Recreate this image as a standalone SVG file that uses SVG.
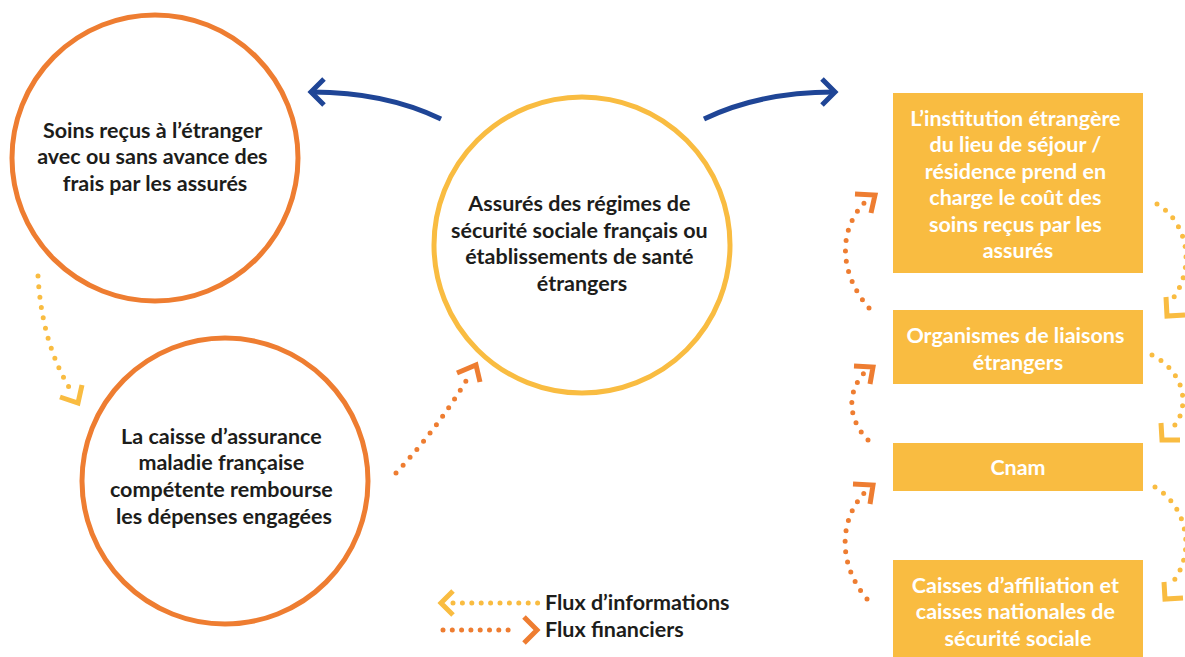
<svg xmlns="http://www.w3.org/2000/svg" width="1185" height="657" viewBox="0 0 1185 657">
  <style>
    .lbl { font-family: Lato, "Liberation Sans", sans-serif; font-weight: 700; font-size: 21.5px; text-anchor: middle; }
    .dark { fill: #1d1d1b; }
    .light { fill: #ffffff; }
    .ring-o { fill: #ffffff; stroke: #ee7d31; stroke-width: 5; }
    .ring-y { fill: #ffffff; stroke: #f9bc41; stroke-width: 5; }
    .box { fill: #f9bc41; }
    .blue { fill: none; stroke: #1f4596; stroke-width: 5; }
    .dots-o { fill: none; stroke: #ee7d31; stroke-width: 5; stroke-linecap: round; stroke-dasharray: 0 10.5; }
    .dots-y { fill: none; stroke: #f9bc41; stroke-width: 5; stroke-linecap: round; stroke-dasharray: 0 10.5; }
    .chev-o { fill: none; stroke: #ee7d31; stroke-width: 5; }
    .chev-y { fill: none; stroke: #f9bc41; stroke-width: 5; }
    .legend { font-family: Lato, "Liberation Sans", sans-serif; font-weight: 700; font-size: 21.5px; fill: #1d1d1b; }
  </style>

  <!-- circles -->
  <g id="soins-etranger">
    <circle class="ring-o" cx="155" cy="158" r="143"/>
    <text class="lbl dark">
      <tspan x="155" y="138">Soins reçus à l’étranger</tspan>
      <tspan x="155" y="164">avec ou sans avance des</tspan>
      <tspan x="155" y="191">frais par les assurés</tspan>
    </text>
  </g>

  <g id="caisse-francaise">
    <circle class="ring-o" cx="225" cy="481" r="143"/>
    <text class="lbl dark">
      <tspan x="224" y="444">La caisse d’assurance</tspan>
      <tspan x="224" y="470">maladie française</tspan>
      <tspan x="224" y="497">compétente rembourse</tspan>
      <tspan x="224" y="524">les dépenses engagées</tspan>
    </text>
  </g>

  <g id="assures">
    <circle class="ring-y" cx="582" cy="245" r="148"/>
    <text class="lbl dark">
      <tspan x="582" y="211">Assurés des régimes de</tspan>
      <tspan x="582" y="238">sécurité sociale français ou</tspan>
      <tspan x="582" y="264">établissements de santé</tspan>
      <tspan x="582" y="291">étrangers</tspan>
    </text>
  </g>

  <!-- boxes -->
  <g id="institution-etrangere">
    <rect class="box" x="893" y="93" width="250" height="180"/>
    <text class="lbl light">
      <tspan x="1018" y="126">L’institution étrangère</tspan>
      <tspan x="1018" y="152">du lieu de séjour /</tspan>
      <tspan x="1018" y="179">résidence prend en</tspan>
      <tspan x="1018" y="205">charge le coût des</tspan>
      <tspan x="1018" y="232">soins reçus par les</tspan>
      <tspan x="1018" y="258">assurés</tspan>
    </text>
  </g>

  <g id="organismes-liaison">
    <rect class="box" x="893" y="310" width="250" height="74"/>
    <text class="lbl light">
      <tspan x="1018" y="343">Organismes de liaisons</tspan>
      <tspan x="1018" y="370">étrangers</tspan>
    </text>
  </g>

  <g id="cnam">
    <rect class="box" x="893" y="443" width="250" height="48"/>
    <text class="lbl light" x="1018" y="475">Cnam</text>
  </g>

  <g id="caisses-affiliation">
    <rect class="box" x="893" y="560" width="250" height="97"/>
    <text class="lbl light">
      <tspan x="1018" y="593">Caisses d’affiliation et</tspan>
      <tspan x="1018" y="619">caisses nationales de</tspan>
      <tspan x="1018" y="646">sécurité sociale</tspan>
    </text>
  </g>

  <!-- connectors -->
  <g id="connectors">
    <!-- blue arrows -->
    <path class="blue" d="M441,119 Q385,92 312,92"/>
    <path class="blue" d="M324,79 L311,92 L324,105"/>
    <path class="blue" d="M704,119 Q760,92 834,92"/>
    <path class="blue" d="M822,79 L835,92 L822,105"/>

    <!-- information flow, left -->
    <path class="dots-y" d="M38,276 Q42,345 72,392"/>
    <path class="chev-y" d="M60,397 L78,403 L82,385"/>

    <!-- financial flow, bottom circle to centre -->
    <path class="dots-o" d="M396,473 Q438,428 469,376"/>
    <path class="chev-o" d="M457,373 L476,365 L480,382"/>

    <!-- financial flows, right column -->
    <path class="dots-o" d="M869,308 C840,275 836,230 867,200"/>
    <path class="chev-o" d="M855,194 L875,195 L871,213"/>
    <path class="dots-o" d="M868,440 C848,420 846,392 865,372"/>
    <path class="chev-o" d="M854,366 L873,367 L870,384"/>
    <path class="dots-o" d="M867,599 C838,565 838,520 866,491"/>
    <path class="chev-o" d="M853,484 L873,485 L870,504"/>

    <!-- information flows, right column -->
    <path class="dots-y" d="M1157,204 C1192,225 1194,275 1170,302"/>
    <path class="chev-y" d="M1166,297 L1167,316 L1185,315"/>
    <path class="dots-y" d="M1152,355 C1190,375 1190,415 1168,432"/>
    <path class="chev-y" d="M1161,423 L1162,440 L1180,440"/>
    <path class="dots-y" d="M1155,487 C1192,510 1194,560 1170,585"/>
    <path class="chev-y" d="M1164,582 L1165,599 L1183,598"/>
  </g>

  <!-- legend -->
  <g id="legend">
    <path class="dots-y" d="M453,603 L538,603" style="stroke-dasharray:0 9.4"/>
    <path class="chev-y" d="M453,591 L441,603 L453,615"/>
    <text class="legend" x="545" y="610">Flux d’informations</text>
    <path class="dots-o" d="M443,630 L517,630" style="stroke-dasharray:0 9.3"/>
    <path class="chev-o" d="M524,617 L537,630 L524,643"/>
    <text class="legend" x="545" y="637">Flux financiers</text>
  </g>
</svg>
